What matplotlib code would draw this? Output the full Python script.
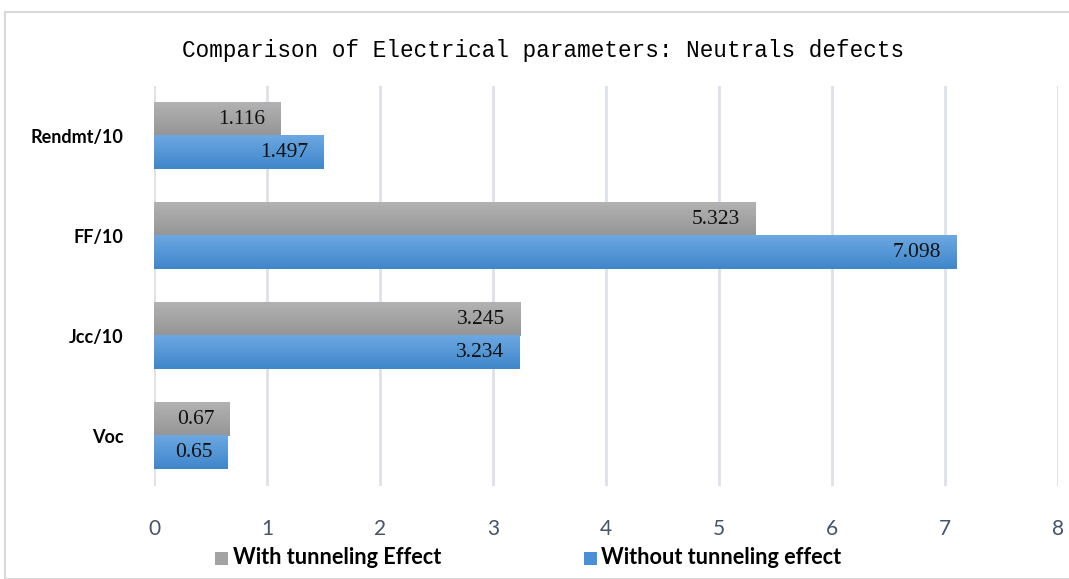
import numpy as np
import matplotlib.pyplot as plt
from matplotlib.colors import LinearSegmentedColormap
from matplotlib.patches import Rectangle

# valeurs
categories = ['Voc', 'Jcc/10', 'FF/10', 'Rendmt/10']
avec_tunnel = [0.67, 3.245, 5.323, 1.116]
sans_tunnel = [0.65, 3.234, 7.098, 1.497]
labels_avec = ['0.67', '3.245', '5.323', '1.116']
labels_sans = ['0.65', '3.234', '7.098', '1.497']
serie_noms = ['With tunneling Effect', 'Without tunneling effect']
xticks = [0, 1, 2, 3, 4, 5, 6, 7, 8]

gris = LinearSegmentedColormap.from_list('gris', ['#b2b2b2', '#959595'])
bleu = LinearSegmentedColormap.from_list('bleu', ['#6ca8e2', '#3f86ca'])

fig = plt.figure(figsize=(10.69, 5.79), dpi=100)
# cadre du graphique
fig.patches.append(Rectangle((5/1069, 0), 1, 1 - 12/579, transform=fig.transFigure,
                             fill=False, edgecolor='#d9d9d9', linewidth=1.5))
ax = fig.add_axes([154/1069, 1 - 486/579, 904/1069, 400/579])

h = 0.335
grad = np.linspace(0, 1, 64).reshape(-1, 1)
y = np.arange(len(categories))
for i in range(len(categories)):
    y0 = y[i]
    # gris en haut, bleu en bas
    ax.imshow(grad, cmap=gris, extent=[0, avec_tunnel[i], y0, y0 + h], origin='upper', aspect='auto', zorder=2)
    ax.imshow(grad, cmap=bleu, extent=[0, sans_tunnel[i], y0 - h, y0], origin='upper', aspect='auto', zorder=2)
    ax.annotate(labels_avec[i], (avec_tunnel[i], y0 + h/2), xytext=(-11, 0), textcoords='offset points',
                ha='right', va='center', fontsize=15.5, family='Liberation Serif', color='#111111', zorder=3)
    ax.annotate(labels_sans[i], (sans_tunnel[i], y0 - h/2), xytext=(-11, 0), textcoords='offset points',
                ha='right', va='center', fontsize=15.5, family='Liberation Serif', color='#111111', zorder=3)

ax.set_xlim(0, 8)
ax.set_ylim(-0.5, len(categories) - 0.5)
ax.set_xticks(xticks)
ax.set_xticklabels([str(t) for t in xticks], fontsize=15, family='Lato', color='#44546a')
ax.set_yticks(y)
ax.set_yticklabels(categories, fontsize=13, family='Lato', fontweight='bold', color='black')
ax.tick_params(axis='x', length=0, pad=24)
ax.tick_params(axis='y', length=0, pad=22)
ax.grid(axis='x', color='#dde1e7', linewidth=2, zorder=0)
ax.set_axisbelow(True)
for s in ax.spines.values():
    s.set_visible(False)

fig.text(543/1069, 1 - 50/579, 'Comparison of Electrical parameters: Neutrals defects',
         ha='center', va='center', fontsize=16.3, family='Liberation Mono', color='black')

# legende
fig.patches.append(Rectangle((215/1069, 1 - 565/579), 13/1069, 13/579, transform=fig.transFigure,
                             facecolor='#a3a3a3', edgecolor='none'))
fig.text(233/1069, 1 - 557/579, serie_noms[0], ha='left', va='center', fontsize=15.6,
         family='Lato', fontweight='bold')
fig.patches.append(Rectangle((584/1069, 1 - 565/579), 13/1069, 13/579, transform=fig.transFigure,
                             facecolor='#4a90d6', edgecolor='none'))
fig.text(601/1069, 1 - 557/579, serie_noms[1], ha='left', va='center', fontsize=15.6,
         family='Lato', fontweight='bold')

fig.savefig('out.png', dpi=100)
